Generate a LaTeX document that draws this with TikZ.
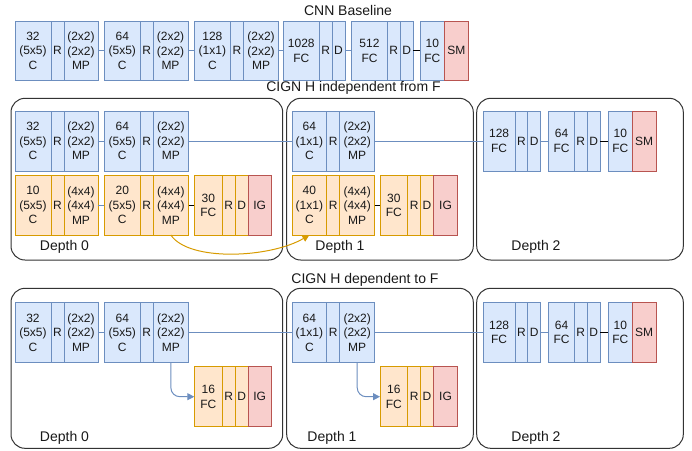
\documentclass[tikz,border=0pt]{standalone}
\usepackage{fontspec}
\setmainfont{Liberation Sans}
\usetikzlibrary{arrows.meta}
\definecolor{bfill}{HTML}{DAE8FC}
\definecolor{bdraw}{HTML}{6C8EBF}
\definecolor{ofill}{HTML}{FFE6CC}
\definecolor{odraw}{HTML}{D79B00}
\definecolor{rfill}{HTML}{F8CECC}
\definecolor{rdraw}{HTML}{B85450}
\definecolor{grpline}{HTML}{333333}
\begin{document}
\begin{tikzpicture}[x=1pt,y=-1pt,
  cellbase/.style={draw, anchor=north west, inner sep=0pt, outer sep=0pt, align=center,
    font=\fontsize{12}{14.5}\selectfont, line width=0.9pt, text=black!90},
  bc/.style={cellbase, fill=bfill, draw=bdraw},
  oc/.style={cellbase, fill=ofill, draw=odraw},
  rc/.style={cellbase, fill=rfill, draw=rdraw},
  bl/.style={draw=bdraw, line width=0.9pt},
  kl/.style={draw=black, line width=0.9pt},
  grp/.style={draw=grpline, rounded corners=14pt, line width=1pt, anchor=north west,
    inner sep=0pt, outer sep=0pt},
  ttl/.style={font=\fontsize{14}{16}\selectfont, inner sep=0pt, text=black!90},
  arr/.style={-{Triangle[length=7pt,width=7pt]}, line width=1pt},
]
\useasboundingbox (0,0) rectangle (692,450);

% ---------- titles ----------
\node[ttl] (title1) at (348,10) {CNN Baseline};
\node[ttl] (title2) at (353.5,88) {CIGN H independent from F};
\node[ttl] (title3) at (365,280) {CIGN H dependent to F};

% ---------- group boxes ----------
\node[grp, minimum width=271.7pt, minimum height=161.7pt] (g0a) at (11,98.3) {};
\node[grp, minimum width=186.6pt, minimum height=161.7pt] (g1a) at (286.7,98.3) {};
\node[grp, minimum width=206.6pt, minimum height=161.7pt] (g2a) at (476.7,98.3) {};
\node[grp, minimum width=271.7pt, minimum height=160pt] (g0b) at (11,288.3) {};
\node[grp, minimum width=186.6pt, minimum height=160pt] (g1b) at (286.7,288.3) {};
\node[grp, minimum width=206.6pt, minimum height=160pt] (g2b) at (476.7,288.3) {};

\node[ttl] (lab0a) at (64.5,247.3) {Depth 0};
\node[ttl] (lab1a) at (340,247.3) {Depth 1};
\node[ttl] (lab2a) at (536,247.3) {Depth 2};
\node[ttl] (lab0b) at (64.5,438.3) {Depth 0};
\node[ttl] (lab1b) at (332,438.3) {Depth 1};
\node[ttl] (lab2b) at (536,438.3) {Depth 2};

% ---------- CNN baseline ----------
\begin{scope}[every node/.append style={minimum height=59.7pt}]
\node[bc, minimum width=36pt] (t1c) at (15,21) {32\\(5x5)\\C};
\node[bc, minimum width=13pt] (t1r) at (51,21) {R};
\node[bc, minimum width=34pt] (t1mp) at (64,21) {(2x2)\\(2x2)\\MP};
\node[bc, minimum width=36pt] (t2c) at (104.3,21) {64\\(5x5)\\C};
\node[bc, minimum width=12.7pt] (t2r) at (140.3,21) {R};
\node[bc, minimum width=35pt] (t2mp) at (153,21) {(2x2)\\(2x2)\\MP};
\node[bc, minimum width=36.7pt] (t3c) at (194,21) {128\\(1x1)\\C};
\node[bc, minimum width=12.6pt] (t3r) at (230.7,21) {R};
\node[bc, minimum width=35.4pt] (t3mp) at (243.3,21) {(2x2)\\(2x2)\\MP};
\node[bc, minimum width=36pt] (t4fc) at (283.3,21) {1028\\FC};
\node[bc, minimum width=12.7pt] (t4r) at (319.3,21) {R};
\node[bc, minimum width=13pt] (t4d) at (332,21) {D};
\node[bc, minimum width=35.6pt] (t5fc) at (351.7,21) {512\\FC};
\node[bc, minimum width=12.7pt] (t5r) at (387.3,21) {R};
\node[bc, minimum width=13.3pt] (t5d) at (400,21) {D};
\node[bc, minimum width=24pt] (t6fc) at (420.3,21) {10\\FC};
\node[rc, minimum width=24pt] (t6sm) at (444.3,21) {SM};
\end{scope}
\draw[bl] (t1mp.east) -- (t2c.west);
\draw[bl] (t2mp.east) -- (t3c.west);
\draw[bl] (t3mp.east) -- (t4fc.west);
\draw[bl] (t4d.east) -- (t5fc.west);
\draw[kl] (t5d.east) -- (t6fc.west);

% ---------- CIGN H independent: blue row ----------
\begin{scope}[every node/.append style={minimum height=60pt}]
\node[bc, minimum width=36pt] (a1c) at (15,111) {32\\(5x5)\\C};
\node[bc, minimum width=13pt] (a1r) at (51,111) {R};
\node[bc, minimum width=34pt] (a1mp) at (64,111) {(2x2)\\(2x2)\\MP};
\node[bc, minimum width=36pt] (a2c) at (104.3,111) {64\\(5x5)\\C};
\node[bc, minimum width=12.7pt] (a2r) at (140.3,111) {R};
\node[bc, minimum width=35.7pt] (a2mp) at (153,111) {(2x2)\\(2x2)\\MP};
\node[bc, minimum width=34.7pt] (a3c) at (292,111) {64\\(1x1)\\C};
\node[bc, minimum width=13pt] (a3r) at (326.7,111) {R};
\node[bc, minimum width=35pt] (a3mp) at (339.7,111) {(2x2)\\(2x2)\\MP};
\node[bc, minimum width=31.7pt] (a4fc) at (483.3,111) {128\\FC};
\node[bc, minimum width=12.7pt] (a4r) at (515,111) {R};
\node[bc, minimum width=13pt] (a4d) at (527.7,111) {D};
\node[bc, minimum width=25.6pt] (a5fc) at (548.7,111) {64\\FC};
\node[bc, minimum width=13pt] (a5r) at (574.3,111) {R};
\node[bc, minimum width=13pt] (a5d) at (587.3,111) {D};
\node[bc, minimum width=24pt] (a6fc) at (608.3,111) {10\\FC};
\node[rc, minimum width=23.7pt] (a6sm) at (632.3,111) {SM};
\end{scope}
\draw[bl] (a1mp.east) -- (a2c.west);
\draw[bl] (a2mp.east) -- (a3c.west);
\draw[bl] (a3mp.east) -- (a4fc.west);
\draw[bl] (a4d.east) -- (a5fc.west);
\draw[kl] (a5d.east) -- (a6fc.west);

% ---------- CIGN H independent: orange row ----------
\begin{scope}[every node/.append style={minimum height=59.7pt}]
\node[oc, minimum width=36pt] (o1c) at (15,175.3) {10\\(5x5)\\C};
\node[oc, minimum width=13pt] (o1r) at (51,175.3) {R};
\node[oc, minimum width=34pt] (o1mp) at (64,175.3) {(4x4)\\(4x4)\\MP};
\node[oc, minimum width=36pt] (o2c) at (104.3,175.3) {20\\(5x5)\\C};
\node[oc, minimum width=12.7pt] (o2r) at (140.3,175.3) {R};
\node[oc, minimum width=35.7pt] (o2mp) at (153,175.3) {(4x4)\\(4x4)\\MP};
\node[oc, minimum width=28pt] (o3fc) at (194.3,175.3) {30\\FC};
\node[oc, minimum width=13pt] (o3r) at (222.3,175.3) {R};
\node[oc, minimum width=13pt] (o3d) at (235.3,175.3) {D};
\node[rc, minimum width=22.7pt] (o3ig) at (248.3,175.3) {IG};
\node[oc, minimum width=34.7pt] (o4c) at (292,175.3) {40\\(1x1)\\C};
\node[oc, minimum width=13pt] (o4r) at (326.7,175.3) {R};
\node[oc, minimum width=35pt] (o4mp) at (339.7,175.3) {(4x4)\\(4x4)\\MP};
\node[oc, minimum width=27.7pt] (o5fc) at (380,175.3) {30\\FC};
\node[oc, minimum width=13pt] (o5r) at (407.7,175.3) {R};
\node[oc, minimum width=12.6pt] (o5d) at (420.7,175.3) {D};
\node[rc, minimum width=24.4pt] (o5ig) at (433.3,175.3) {IG};
\end{scope}
\draw[bl] (o1mp.east) -- (o2c.west);
\draw[kl] (o2mp.east) -- (o3fc.west);
\draw[kl] (o4mp.east) -- (o5fc.west);
\draw[arr, draw=odraw] (o2mp.south) .. controls +(18,27) and +(-39,23) .. (o4c.south);

% ---------- CIGN H dependent: blue row ----------
\begin{scope}[every node/.append style={minimum height=59.6pt}]
\node[bc, minimum width=36pt] (b1c) at (15,302.7) {32\\(5x5)\\C};
\node[bc, minimum width=13pt] (b1r) at (51,302.7) {R};
\node[bc, minimum width=34pt] (b1mp) at (64,302.7) {(2x2)\\(2x2)\\MP};
\node[bc, minimum width=36pt] (b2c) at (104.3,302.7) {64\\(5x5)\\C};
\node[bc, minimum width=12.7pt] (b2r) at (140.3,302.7) {R};
\node[bc, minimum width=35.7pt] (b2mp) at (153,302.7) {(2x2)\\(2x2)\\MP};
\node[bc, minimum width=34.7pt] (b3c) at (292,302.7) {64\\(1x1)\\C};
\node[bc, minimum width=13pt] (b3r) at (326.7,302.7) {R};
\node[bc, minimum width=35pt] (b3mp) at (339.7,302.7) {(2x2)\\(2x2)\\MP};
\node[bc, minimum width=31.7pt] (b4fc) at (483.3,302.7) {128\\FC};
\node[bc, minimum width=12.7pt] (b4r) at (515,302.7) {R};
\node[bc, minimum width=13pt] (b4d) at (527.7,302.7) {D};
\node[bc, minimum width=25.6pt] (b5fc) at (548.7,302.7) {64\\FC};
\node[bc, minimum width=13pt] (b5r) at (574.3,302.7) {R};
\node[bc, minimum width=13pt] (b5d) at (587.3,302.7) {D};
\node[bc, minimum width=24pt] (b6fc) at (608.3,302.7) {10\\FC};
\node[rc, minimum width=23.7pt] (b6sm) at (632.3,302.7) {SM};
\end{scope}
\draw[bl] (b1mp.east) -- (b2c.west);
\draw[bl] (b2mp.east) -- (b3c.west);
\draw[bl] (b3mp.east) -- (b4fc.west);
\draw[bl] (b4d.east) -- (b5fc.west);
\draw[kl] (b5d.east) -- (b6fc.west);

% ---------- CIGN H dependent: orange ----------
\begin{scope}[every node/.append style={minimum height=60pt}]
\node[oc, minimum width=28pt] (p1fc) at (194.3,366.7) {16\\FC};
\node[oc, minimum width=13pt] (p1r) at (222.3,366.7) {R};
\node[oc, minimum width=13pt] (p1d) at (235.3,366.7) {D};
\node[rc, minimum width=22.7pt] (p1ig) at (248.3,366.7) {IG};
\node[oc, minimum width=27.7pt] (p2fc) at (380,366.7) {16\\FC};
\node[oc, minimum width=13pt] (p2r) at (407.7,366.7) {R};
\node[oc, minimum width=12.6pt] (p2d) at (420.7,366.7) {D};
\node[rc, minimum width=24.4pt] (p2ig) at (433.3,366.7) {IG};
\end{scope}
\draw[arr, draw=bdraw, rounded corners=9pt] (b2mp.south) |- (p1fc.west);
\draw[arr, draw=bdraw, rounded corners=9pt] (b3mp.south) |- (p2fc.west);
\end{tikzpicture}
\end{document}
